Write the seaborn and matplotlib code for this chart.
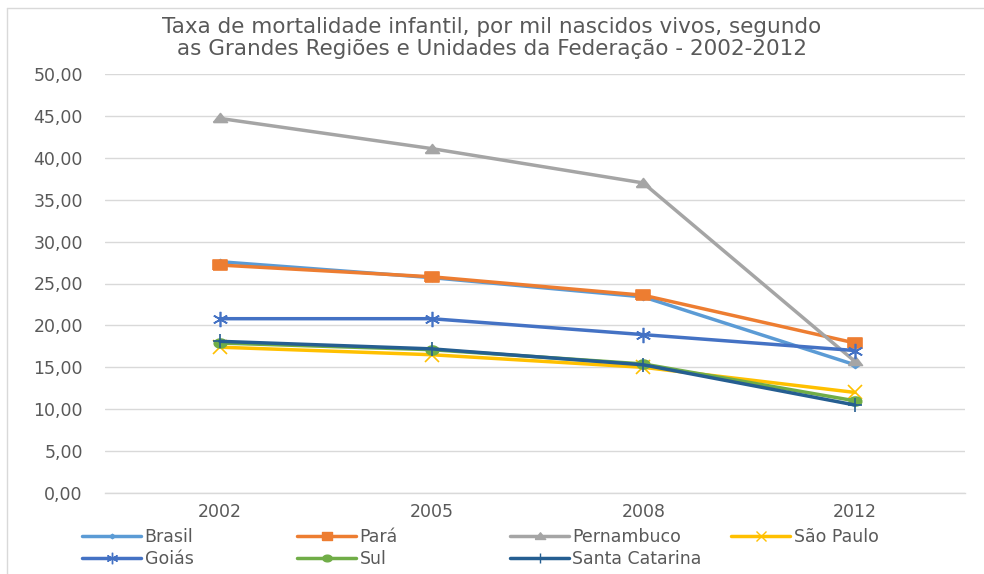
import matplotlib
matplotlib.use("Agg")
import matplotlib.pyplot as plt
import seaborn as sns
import pandas as pd
import numpy as np
from matplotlib.lines import Line2D

years = ["2002", "2005", "2008", "2012"]
series_names = ["Brasil", "Pará", "Pernambuco", "São Paulo", "Goiás", "Sul", "Santa Catarina"]
brasil = [27.6, 25.7, 23.4, 15.3]
para = [27.2, 25.8, 23.6, 17.9]
pernambuco = [44.7, 41.1, 37.0, 15.7]
sao_paulo = [17.4, 16.5, 15.0, 12.0]
goias = [20.8, 20.8, 18.9, 17.0]
sul = [17.9, 17.1, 15.4, 11.0]
santa_catarina = [18.1, 17.2, 15.3, 10.5]
values = [brasil, para, pernambuco, sao_paulo, goias, sul, santa_catarina]
yticks = [0, 5, 10, 15, 20, 25, 30, 35, 40, 45, 50]
title = "Taxa de mortalidade infantil, por mil nascidos vivos, segundo\nas Grandes Regiões e Unidades da Federação - 2002-2012"

colors = ["#5B9BD5", "#ED7D31", "#A5A5A5", "#FFC000", "#4472C4", "#70AD47", "#255E91"]

# horizontally stretched marker shapes (reference image is widened)
sx = 1.4
m_diamond = [(-sx, 0), (0, 1), (sx, 0), (0, -1), (-sx, 0)]
m_square = [(-sx, -1), (sx, -1), (sx, 1), (-sx, 1), (-sx, -1)]
m_tri = [(-sx, -0.8), (sx, -0.8), (0, 1), (-sx, -0.8)]
th = np.linspace(0, 2 * np.pi, 40)
m_circle = list(zip(sx * np.cos(th), np.sin(th)))
markers = [m_diamond, m_square, m_tri, "x", (6, 2, 0), m_circle, "+"]
msizes = [6, 10, 10, 10, 11, 9, 10]

rows = []
for name, vals in zip(series_names, values):
    for i, (yr, v) in enumerate(zip(years, vals)):
        rows.append({"serie": name, "pos": i, "ano": yr, "valor": v})
df = pd.DataFrame(rows)

sns.set_theme(style="white")
plt.rcParams["font.family"] = ["DejaVu Sans"]
txt = "#595959"

fig = plt.figure(figsize=(9.84, 5.74), dpi=100)
ax = fig.add_axes([105 / 984, 1 - 493 / 574, (965 - 105) / 984, (493 - 74) / 574])

for name, c, m, ms in zip(series_names, colors, markers, msizes):
    sub = df[df["serie"] == name]
    sns.lineplot(data=sub, x="pos", y="valor", color=c, marker=m, markersize=ms,
                 markeredgecolor=c, markerfacecolor=c, markeredgewidth=1.2,
                 linewidth=2.5, ax=ax, legend=False, zorder=3)

ax.set_xlim(-0.543, 3.52)
ax.set_ylim(0, 50)
ax.set_xticks(range(len(years)))
ax.set_xticklabels(years)
ax.set_yticks(yticks)
ax.set_yticklabels([f"{t:.2f}".replace(".", ",") for t in yticks])
ax.set_xlabel("")
ax.set_ylabel("")
ax.tick_params(axis="both", colors=txt, labelsize=12.5, length=0)
ax.tick_params(axis="y", pad=16)
ax.tick_params(axis="x", pad=7)
ax.grid(axis="y", color="#D9D9D9", linewidth=1)
ax.grid(axis="x", visible=False)
for s in ["top", "right", "left"]:
    ax.spines[s].set_visible(False)
ax.spines["bottom"].set_color("#D9D9D9")
ax.spines["bottom"].set_linewidth(1)

fig.text(492 / 984, 1 - 38 / 574, title, ha="center", va="center", color=txt,
         fontsize=15.5, linespacing=1.12)

# legends as columns (handle start x in px)
cols = [([0, 4], 82), ([1, 5], 297), ([2, 6], 510), ([3], 731)]
for idxs, xpx in cols:
    handles = [Line2D([0], [0], color=colors[i], marker=markers[i], markersize=msizes[i] * 0.75,
                      markeredgecolor=colors[i], markerfacecolor=colors[i], linewidth=2.5)
               for i in idxs]
    labels = [series_names[i] for i in idxs]
    leg = fig.legend(handles, labels, loc="upper left",
                     bbox_to_anchor=(xpx / 984, 1 - 528 / 574),
                     frameon=False, fontsize=12.5, handlelength=3.4, handletextpad=0.2,
                     labelspacing=0.25, borderpad=0, borderaxespad=0)
    for t in leg.get_texts():
        t.set_color(txt)

# outer frame (top and left)
fig.add_artist(Line2D([7 / 984, 7 / 984], [0, 1 - 8 / 574], transform=fig.transFigure,
                      color="#D9D9D9", linewidth=1))
fig.add_artist(Line2D([7 / 984, 1], [1 - 8 / 574, 1 - 8 / 574], transform=fig.transFigure,
                      color="#D9D9D9", linewidth=1))

fig.savefig("out.png", dpi=100, facecolor="white")
